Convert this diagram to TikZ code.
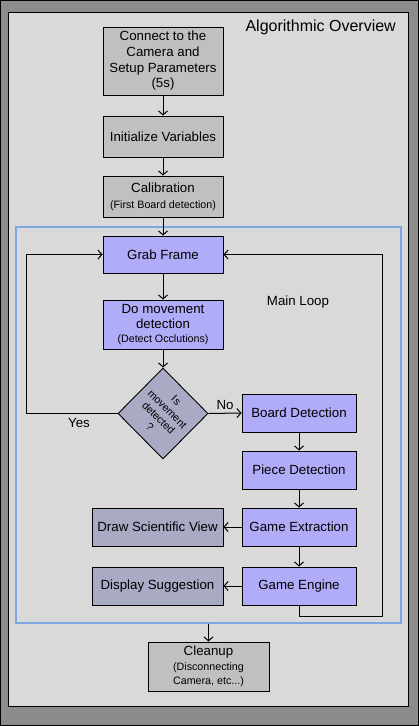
\documentclass[tikz,border=0pt]{standalone}
\usepackage{fontspec}
\setmainfont{Liberation Sans}
\usetikzlibrary{shapes.geometric,arrows.meta,positioning}
\definecolor{framegray}{RGB}{140,140,140}
\definecolor{panelgray}{RGB}{217,217,217}
\definecolor{boxgray}{RGB}{192,192,192}
\definecolor{loopblue}{RGB}{176,172,248}
\definecolor{sideblue}{RGB}{169,170,196}
\definecolor{loopframe}{RGB}{126,166,224}
\newcommand{\smalltxt}{\fontsize{10.7}{13}\selectfont}
\tikzset{
  stepbox/.style={draw, line width=0.9pt, inner sep=1pt, align=center,
    font=\fontsize{13.3}{15.7}\selectfont},
  setupbox/.style={stepbox, fill=boxgray, minimum width=120pt},
  loopbox/.style={stepbox, fill=loopblue, minimum width=114pt, minimum height=38pt},
  sidebox/.style={stepbox, fill=sideblue, minimum width=131pt, minimum height=38pt},
  arr/.style={line width=1pt, -{Straight Barb[length=4pt,width=9pt,line width=1pt]}}
}
\begin{document}
\begin{tikzpicture}[x=1pt,y=-1pt]
    \useasboundingbox (0,0) rectangle (419,726);
    % Frame
    \fill[framegray] (0,0) rectangle (419,726);
    \draw[line width=1pt] (0.5,0.5) rectangle (418.5,725.5);
    \draw[fill=panelgray, line width=0.9pt] (8,12) rectangle (408,706);
    \node[anchor=east, inner sep=0pt, font=\fontsize{16}{18}\selectfont] (title) at (396,27) {Algorithmic Overview};

    % Setup
    \node[setupbox, minimum height=68pt] (connect) at (163,61)
        {Connect to the\\Camera and\\Setup Parameters\\(5s)};
    \node[setupbox, minimum height=41pt] (init) at (163,136.5) {Initialize Variables};
    \node[setupbox, minimum height=41pt] (calib) at (163,196.5)
        {Calibration\\{\smalltxt (First Board detection)}};

    % Main loop
    \node[draw=loopframe, line width=1.2pt, minimum width=385pt, minimum height=396pt,
        inner sep=0pt] (mainloop) at (208.5,425) {};
    \node[font=\fontsize{13.3}{15.7}\selectfont] (looplabel) at (298,302) {Main Loop};
    \node[loopbox, minimum width=120pt, minimum height=37pt] (grab) at (163,254.5) {Grab Frame};
    \node[loopbox, minimum width=120pt, minimum height=49pt] (move) at (163,324.5)
        {Do movement\\detection\\[-2pt]{\smalltxt (Detect Occlutions)}};
    \node[draw, diamond, fill=sideblue, line width=0.9pt, minimum width=90pt,
        minimum height=91pt, inner sep=0pt] (dec) at (163,413.5) {};
    \node[rotate=-45, align=center, font=\fontsize{10.7}{12.5}\selectfont] (dectext) at (dec.center)
        {Is\\movement\\detected\\?};
    \node[loopbox] (board) at (299,413) {Board Detection};
    \node[loopbox] (piece) at (299,470) {Piece Detection};
    \node[loopbox] (extract) at (299,527) {Game Extraction};
    \node[loopbox] (engine) at (299,586) {Game Engine};
    \node[sidebox] (sci) at (157.5,527) {Draw Scientific View};
    \node[sidebox] (suggest) at (157.5,586) {Display Suggestion};

    % Cleanup
    \node[setupbox, minimum width=121pt, minimum height=49pt] (cleanup) at (208.5,666.5)
        {Cleanup\\[-1pt]{\smalltxt (Disconnecting}\\[-1pt]{\smalltxt Camera, etc...)}};

    % Arrows
    \draw[arr] (connect) -- (init);
    \draw[arr] (init) -- (calib);
    \draw[arr] (calib) -- (grab);
    \draw[arr] (grab) -- (move);
    \draw[arr] (move) -- (dec);
    \draw[arr] (dec.west) -- ++(-91,0) |- (grab.west);
    \node[font=\fontsize{13.3}{15.7}\selectfont] (yes) at (79,423) {Yes};
    \draw[arr] (dec.east) -- node[above, font=\fontsize{13.3}{15.7}\selectfont] (no) {No} (board.west);
    \draw[arr] (board) -- (piece);
    \draw[arr] (piece) -- (extract);
    \draw[arr] (extract) -- (engine);
    \draw[arr] (extract) -- (sci);
    \draw[arr] (engine) -- (suggest);
    \draw[arr] (engine.south) |- ++(83,11) |- (grab.east);
    \draw[arr] (mainloop.south) -- (cleanup.north);
\end{tikzpicture}
\end{document}
